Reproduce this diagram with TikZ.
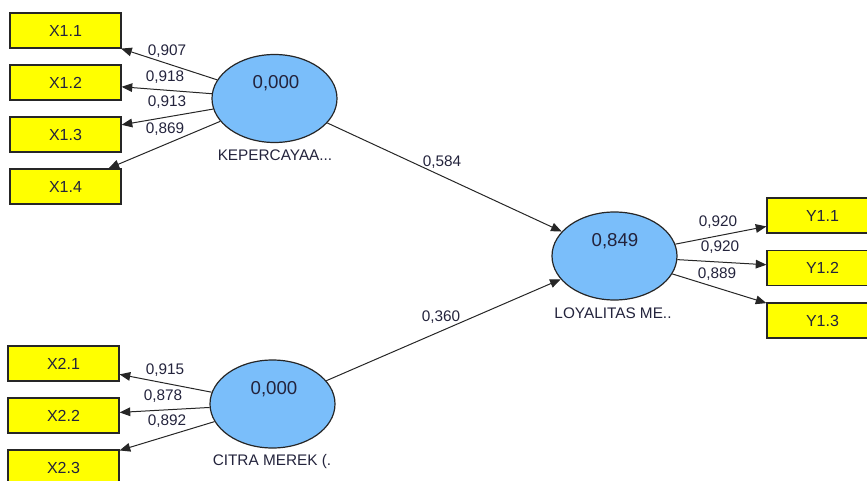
\documentclass[tikz,border=0pt]{standalone}
\usepackage{fontspec}
\setmainfont{Liberation Sans}
\usetikzlibrary{shapes.geometric,arrows.meta}

\begin{document}
\begin{tikzpicture}[x=0.75pt,y=-0.75pt,
  indicator/.style={draw=black!85, line width=0.9pt, fill=itemyellow,
    minimum width=83.25pt, minimum height=26.25pt, inner sep=0pt,
    text=textnavy, font=\fontsize{12}{14}\selectfont},
  latent/.style={ellipse, draw=black!85, line width=0.9pt, fill=latentblue,
    minimum width=93.75pt, minimum height=66pt, inner sep=0pt},
  rsq/.style={text=textnavy, font=\fontsize{14}{16}\selectfont},
  lvname/.style={text=textnavy, font=\fontsize{11.5}{13}\selectfont},
  coef/.style={text=textnavy, inner sep=0pt, font=\fontsize{11.5}{13}\selectfont},
  path/.style={draw=black!85, line width=0.75pt,
    -{Triangle[length=8pt,width=6.5pt]}}]
  % Define model colors
  \definecolor{itemyellow}{RGB}{255,255,0}
  \definecolor{latentblue}{RGB}{122,190,250}
  \definecolor{textnavy}{RGB}{35,35,60}

  \useasboundingbox (0,0) rectangle (867,481);
  \clip (0,0) rectangle (867,481);

  % Latent variables
  \node[latent] (kep) at (274.5,98.5) {};
  \node[rsq] (kepval) at (276,83) {0,000};
  \node[lvname] (kepname) at (275,155) {KEPERCAYAA...};

  \node[latent] (cit) at (272.5,404) {};
  \node[rsq] (citval) at (274,389) {0,000};
  \node[lvname] (citname) at (272,462) {CITRA MEREK (.};

  \node[latent] (loy) at (614.5,256) {};
  \node[rsq] (loyval) at (615,241) {0,849};
  \node[lvname] (loyname) at (613,313) {LOYALITAS ME..};

  % Indicators of KEPERCAYAAN
  \foreach \i/\y/\c/\lx/\ly in {1/30.5/{0,907}/167/51, 2/82.5/{0,918}/165/77,
      3/134.5/{0,913}/167/102, 4/186.5/{0,869}/165/129} {
    \node[indicator] (x1\i) at (65.5,\y) {X1.\i};
    \draw[path] (kep) -- (x1\i);
    \node[coef] (l1\i) at (\lx,\ly) {\c};
  }

  % Indicators of CITRA MEREK
  \foreach \i/\y/\c/\lx/\ly in {1/363.5/{0,915}/165/370, 2/415.5/{0,878}/163/396,
      3/467.5/{0,892}/167/421} {
    \node[indicator] (x2\i) at (63.5,\y) {X2.\i};
    \draw[path] (cit) -- (x2\i);
    \node[coef] (l2\i) at (\lx,\ly) {\c};
  }

  % Indicators of LOYALITAS
  \foreach \i/\y/\c/\lx/\ly in {1/215.5/{0,920}/718/222, 2/268/{0,920}/720/247,
      3/320.5/{0,889}/717/274} {
    \node[indicator] (y1\i) at (822.5,\y) {Y1.\i};
    \draw[path] (loy) -- (y1\i);
    \node[coef] (m1\i) at (\lx,\ly) {\c};
  }

  % Structural paths
  \draw[path] (kep) -- (loy);
  \node[coef] (b1) at (442,162) {0,584};
  \draw[path] (cit) -- (loy);
  \node[coef] (b2) at (441,317) {0,360};
\end{tikzpicture}
\end{document}
